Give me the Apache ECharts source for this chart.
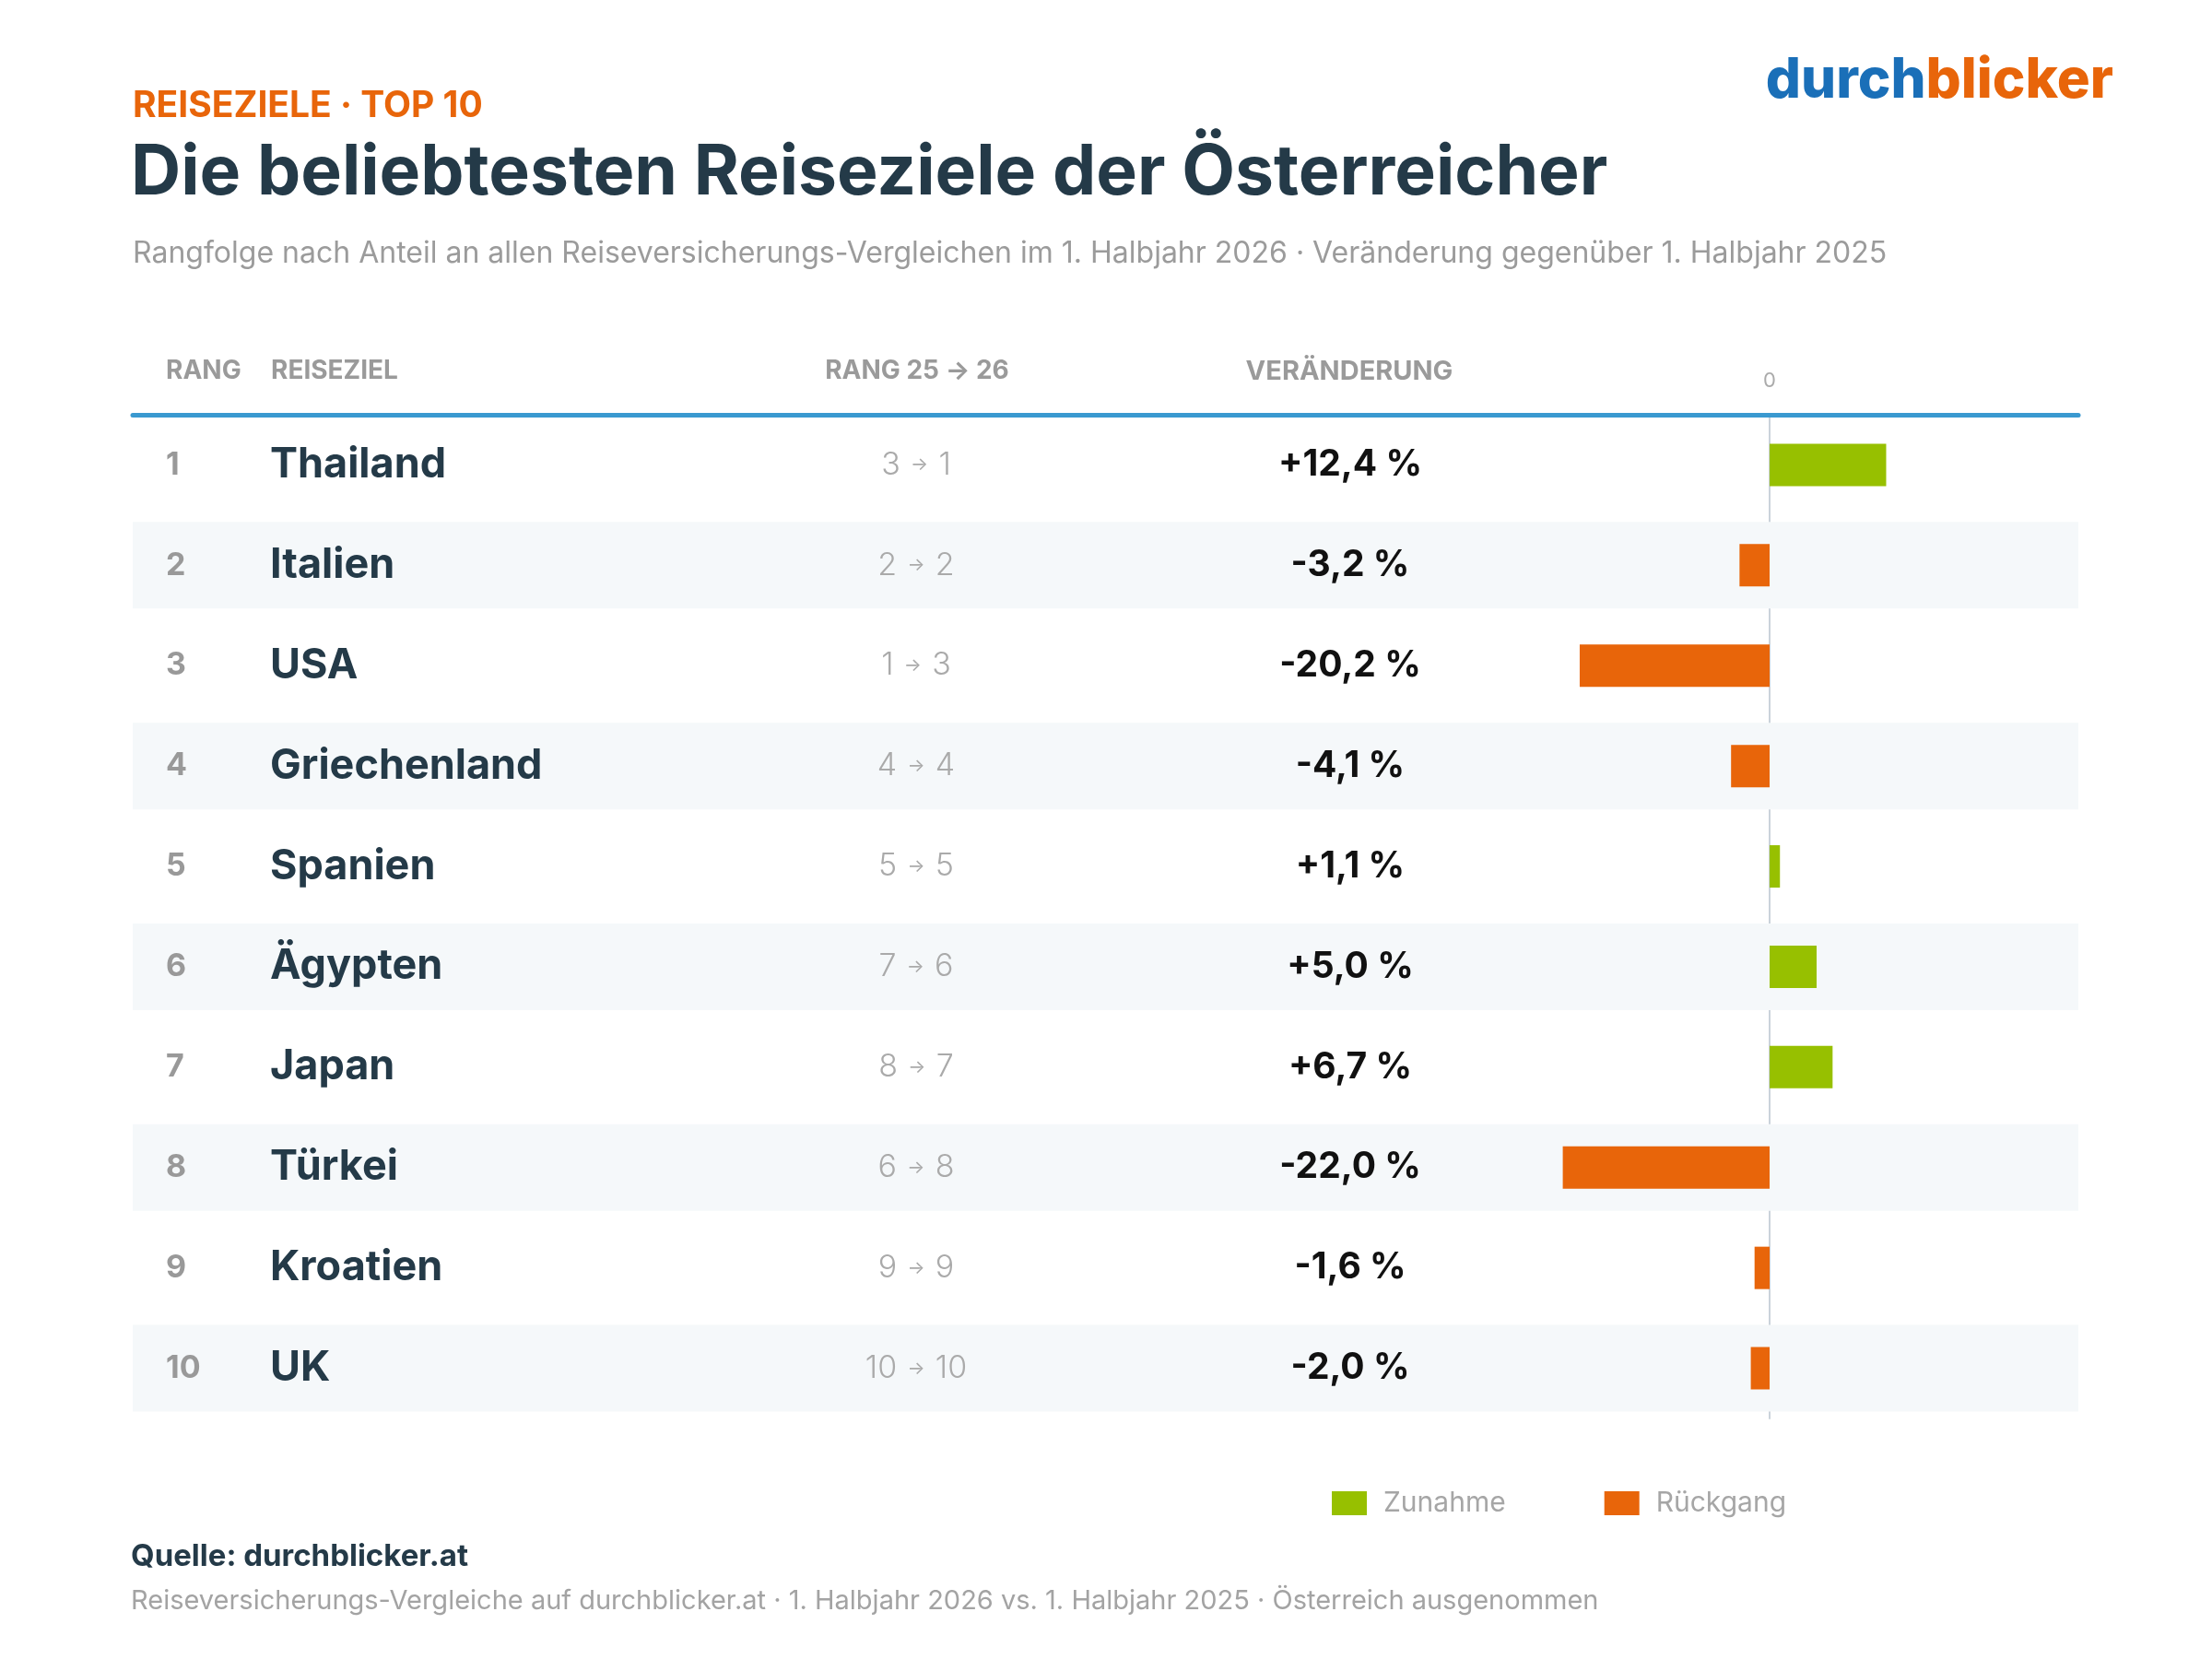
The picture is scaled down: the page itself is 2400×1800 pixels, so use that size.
<!DOCTYPE html>
<html>
<head>
<meta charset="utf-8">
<script src="https://cdn.jsdelivr.net/npm/echarts@6/dist/echarts.min.js"></script>
<style>
html,body{margin:0;padding:0;background:#fff;}
#c{width:2400px;height:1800px;}
</style>
</head>
<body>
<div id="c"></div>
<script>
const ranks = ['1','2','3','4','5','6','7','8','9','10'];
const countries = ['Thailand','Italien','USA','Griechenland','Spanien','Ägypten','Japan','Türkei','Kroatien','UK'];
const rank25 = [3, 2, 1, 4, 5, 7, 8, 6, 9, 10];
const rank26 = [1, 2, 3, 4, 5, 6, 7, 8, 9, 10];
const changes = [12.4, -3.2, -20.2, -4.1, 1.1, 5.0, 6.7, -22.0, -1.6, -2.0];
const zeroTick = ['0'];

const FONT = 'Inter, "Noto Sans", sans-serif';
const ORANGE = '#E8650A';
const GREEN = '#97C000';
const DARK = '#243A48';

const rangLabels = rank25.map((r, i) => '{n|' + r + '}{a|  →  }{n|' + rank26[i] + '}');
const changeLabels = changes.map(v => (v > 0 ? '+' : '') + v.toFixed(1).replace('.', ',') + ' %');
const bandData = countries.map((c, i) => (i % 2 === 1 ? 1 : '-'));

const chart = echarts.init(document.getElementById('c'), null, {renderer: 'canvas'});

function txt(x, y, text, size, weight, color, align) {
  return {
    type: 'text', x: x, y: y, silent: true,
    style: {
      text: text, fill: color, align: align || 'left', verticalAlign: 'middle',
      font: weight + ' ' + size + 'px ' + FONT
    }
  };
}

const option = {
  backgroundColor: '#ffffff',
  animation: false,
  textStyle: {fontFamily: FONT},
  grid: [
    {left: 144, right: 145, top: 450, height: 1089},
    {left: 1665, width: 510, top: 450, height: 1089}
  ],
  xAxis: [
    {
      gridIndex: 0, type: 'value', min: 0, max: 1, position: 'top',
      axisLine: {show: true, lineStyle: {color: '#3A99D0', width: 5}},
      axisTick: {show: false}, axisLabel: {show: false}, splitLine: {show: false}
    },
    {
      gridIndex: 1, type: 'value', min: -25, max: 25, interval: 25, position: 'top',
      axisLine: {show: false}, axisTick: {show: false}, splitLine: {show: false},
      axisLabel: {
        margin: 26, fontSize: 22, color: '#AAAAAA', fontFamily: FONT,
        formatter: v => (v === 0 ? zeroTick[0] : '')
      }
    }
  ],
  yAxis: [
    {
      gridIndex: 0, type: 'category', inverse: true, data: ranks, position: 'left',
      axisLine: {show: false}, axisTick: {show: false},
      axisLabel: {inside: true, margin: 36, align: 'left', fontSize: 34, fontWeight: 700, color: '#999999', fontFamily: FONT}
    },
    {
      gridIndex: 0, type: 'category', inverse: true, data: countries, position: 'left',
      axisLine: {show: false}, axisTick: {show: false},
      axisLabel: {inside: true, margin: 149, align: 'left', fontSize: 45, fontWeight: 700, color: DARK, fontFamily: FONT}
    },
    {
      gridIndex: 0, type: 'category', inverse: true, data: rangLabels, position: 'left',
      axisLine: {show: false}, axisTick: {show: false},
      axisLabel: {
        inside: true, margin: 850, align: 'center', color: '#AAAAAA', fontFamily: FONT,
        rich: {
          n: {fontSize: 34, fontWeight: 300, color: '#AAAAAA', fontFamily: FONT},
          a: {fontSize: 20, fontWeight: 400, color: '#AAAAAA', fontFamily: FONT}
        }
      }
    },
    {
      gridIndex: 0, type: 'category', inverse: true, data: changeLabels, position: 'left',
      axisLine: {show: false}, axisTick: {show: false},
      axisLabel: {inside: true, margin: 1321, align: 'center', fontSize: 39, fontWeight: 700, color: '#111111', fontFamily: FONT}
    },
    {
      gridIndex: 1, type: 'category', inverse: true, data: countries,
      axisLine: {show: true, onZero: true, lineStyle: {color: '#CBD3DB', width: 2}},
      axisTick: {show: false}, axisLabel: {show: false}, splitLine: {show: false}
    }
  ],
  legend: {
    data: ['Zunahme', 'Rückgang'],
    left: 1440, top: 1611, itemWidth: 38, itemHeight: 26, itemGap: 107,
    icon: 'rect',
    textStyle: {fontSize: 30, color: '#A6A6A6', fontFamily: FONT, padding: [0, 0, 0, 13]}
  },
  series: [
    {
      type: 'bar', name: 'band', xAxisIndex: 0, yAxisIndex: 0, data: bandData,
      barWidth: 94, silent: true, itemStyle: {color: '#F5F8FA'}, z: 0
    },
    {
      type: 'bar', name: 'Zunahme', xAxisIndex: 1, yAxisIndex: 4, stack: 'chg',
      data: changes.map(v => (v > 0 ? v : '-')), barWidth: 46,
      itemStyle: {color: GREEN}, z: 3
    },
    {
      type: 'bar', name: 'Rückgang', xAxisIndex: 1, yAxisIndex: 4, stack: 'chg',
      data: changes.map(v => (v < 0 ? v : '-')), barWidth: 46,
      itemStyle: {color: ORANGE}, z: 3
    }
  ],
  graphic: [
    txt(144, 115, 'REISEZIELE · TOP 10', 39, 700, ORANGE),
    txt(142, 188, 'Die beliebtesten Reiseziele der Österreicher', 75, 700, DARK),
    txt(144, 275, 'Rangfolge nach Anteil an allen Reiseversicherungs-Vergleichen im 1. Halbjahr 2026 · Veränderung gegenüber 1. Halbjahr 2025', 32, 400, '#9B9B9B'),
    {
      type: 'text', x: 2293, y: 88, silent: true,
      style: {
        text: '{a|durch}{b|blicker}', align: 'right', verticalAlign: 'middle',
        rich: {
          a: {fill: '#1A6FB8', fontSize: 60, fontWeight: 800, fontFamily: FONT},
          b: {fill: ORANGE, fontSize: 60, fontWeight: 800, fontFamily: FONT}
        }
      }
    },
    txt(180, 403, 'RANG', 28, 700, '#9A9A9A'),
    txt(294, 403, 'REISEZIEL', 28, 700, '#9A9A9A'),
    txt(995, 403, 'RANG 25 → 26', 28, 700, '#9A9A9A', 'center'),
    txt(1464, 403, 'VERÄNDERUNG', 29, 700, '#9A9A9A', 'center'),
    txt(142, 1689, 'Quelle: durchblicker.at', 33, 700, DARK),
    txt(142, 1737, 'Reiseversicherungs-Vergleiche auf durchblicker.at · 1. Halbjahr 2026 vs. 1. Halbjahr 2025 · Österreich ausgenommen', 29, 400, '#A3A3A3')
  ]
};
chart.setOption(option);
</script>
</body>
</html>
